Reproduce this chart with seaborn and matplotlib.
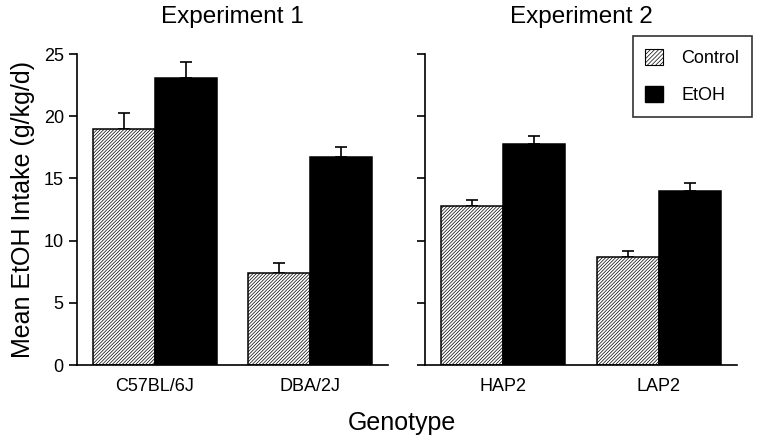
import matplotlib
matplotlib.use("Agg")
import matplotlib.pyplot as plt
import seaborn as sns
import pandas as pd
from matplotlib.patches import Patch
from matplotlib.container import BarContainer

# ---- data ----
exp1_genotypes = ["C57BL/6J", "DBA/2J"]
exp1_control = [19.0, 7.4]
exp1_etoh = [23.1, 16.7]
exp1_control_sem = [1.3, 0.8]
exp1_etoh_sem = [1.3, 0.85]

exp2_genotypes = ["HAP2", "LAP2"]
exp2_control = [12.8, 8.65]
exp2_etoh = [17.8, 14.0]
exp2_control_sem = [0.45, 0.5]
exp2_etoh_sem = [0.65, 0.65]

conditions = ["Control", "EtOH"]
titles = ["Experiment 1", "Experiment 2"]
yticks = [0, 5, 10, 15, 20, 25]

HATCH = "//////////"

sns.set_style("ticks")
plt.rcParams["font.family"] = ["Liberation Sans", "DejaVu Sans"]
plt.rcParams["hatch.color"] = "#a0a0a0"
plt.rcParams["hatch.linewidth"] = 0.5
for k in ["text.color", "axes.labelcolor", "xtick.color", "ytick.color",
          "axes.edgecolor"]:
    plt.rcParams[k] = "black"

fig = plt.figure(figsize=(7.62, 4.43), dpi=100)
ax1 = fig.add_axes([0.101, 0.176, 0.408, 0.702])
ax2 = fig.add_axes([0.558, 0.176, 0.409, 0.702])


def panel(ax, genos, ctrl, etoh, ctrl_sem, etoh_sem, title, show_labels):
    df = pd.DataFrame({
        "Genotype": genos * 2,
        "Condition": ["Control"] * len(genos) + ["EtOH"] * len(genos),
        "Intake": list(ctrl) + list(etoh),
    })
    sns.barplot(data=df, x="Genotype", y="Intake", hue="Condition",
                hue_order=conditions, order=genos, errorbar=None,
                palette={"Control": "white", "EtOH": "black"},
                edgecolor="black", linewidth=1.1, width=0.8,
                legend=False, ax=ax)
    sems = [ctrl_sem, etoh_sem]
    bar_conts = [c for c in ax.containers if isinstance(c, BarContainer)]
    for ci, cont in enumerate(bar_conts):
        for bi, bar in enumerate(cont.patches):
            bar.set_zorder(2)
            if ci == 0:
                bar.set_hatch(HATCH)
            x = bar.get_x() + bar.get_width() / 2
            h = bar.get_height()
            ax.errorbar(x, h, yerr=[[0], [sems[ci][bi]]], fmt="none",
                        ecolor="black", elinewidth=1.2, capsize=4,
                        capthick=1.2, zorder=1)
    ax.set_xlim(-0.5, 1.5)
    ax.set_ylim(0, 25)
    ax.set_yticks(yticks)
    ax.set_xlabel("")
    ax.set_ylabel("")
    ax.set_title(title, fontsize=17.5, pad=22)
    ax.tick_params(axis="x", length=0, labelsize=13, pad=9)
    ax.tick_params(axis="y", length=6, width=1.2, direction="out",
                   labelsize=13, labelleft=show_labels)
    for s in ["top", "right"]:
        ax.spines[s].set_visible(False)
    for s in ["left", "bottom"]:
        ax.spines[s].set_linewidth(1.2)


panel(ax1, exp1_genotypes, exp1_control, exp1_etoh, exp1_control_sem,
      exp1_etoh_sem, titles[0], True)
panel(ax2, exp2_genotypes, exp2_control, exp2_etoh, exp2_control_sem,
      exp2_etoh_sem, titles[1], False)

ax1.set_ylabel("Mean EtOH Intake (g/kg/d)", fontsize=18, labelpad=6)
fig.text(0.528, 0.045, "Genotype", ha="center", va="center", fontsize=18)

handles = [Patch(facecolor="white", edgecolor="black", hatch="////////",
                 linewidth=0.8),
           Patch(facecolor="black", edgecolor="black")]
leg = fig.legend(handles, conditions, loc="upper right",
                 bbox_to_anchor=(0.987, 0.919), fontsize=13,
                 frameon=True, fancybox=False, edgecolor="black",
                 handlelength=1.0, handleheight=1.0, handletextpad=1.0,
                 labelspacing=1.05, borderpad=0.7, borderaxespad=0)
leg.get_frame().set_linewidth(1.2)

fig.savefig("out.png", dpi=100)
